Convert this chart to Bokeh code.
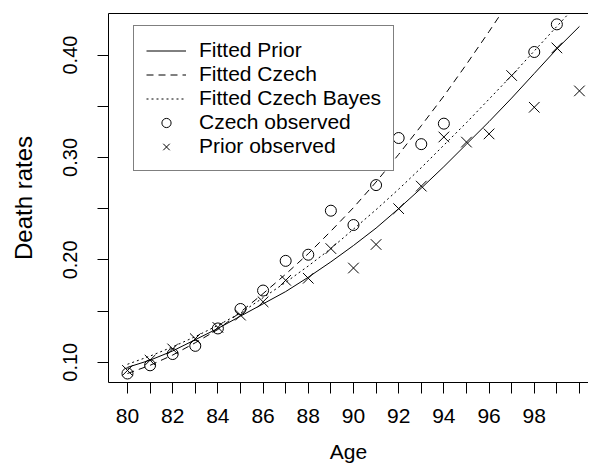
from bokeh.plotting import figure
from bokeh.models import (Range1d, FixedTicker, LinearAxis, Legend, LegendItem,
                          PrintfTickFormatter)
from bokeh.embed import file_html
from bokeh.resources import INLINE

# ---------------- data ----------------
ages_fit = list(range(80, 101))
fitted_prior = [0.095, 0.102, 0.111, 0.122, 0.133, 0.145, 0.157, 0.169, 0.183, 0.198,
                0.214, 0.231, 0.250, 0.270, 0.291, 0.313, 0.335, 0.358, 0.382, 0.406, 0.428]
fitted_bayes = [0.098, 0.106, 0.115, 0.125, 0.136, 0.148, 0.163, 0.178, 0.194, 0.211,
                0.230, 0.249, 0.269, 0.290, 0.312, 0.334, 0.357, 0.380, 0.404, 0.428, 0.452]
ages_czech_fit = list(range(80, 99))
fitted_czech = [0.089, 0.097, 0.107, 0.119, 0.132, 0.149, 0.167, 0.186, 0.206, 0.228,
                0.251, 0.276, 0.303, 0.331, 0.360, 0.391, 0.423, 0.456, 0.490]

ages_czech_obs = [80, 81, 82, 83, 84, 85, 86, 87, 88, 89, 90, 91, 92, 93, 94, 98, 99]
czech_obs = [0.089, 0.097, 0.108, 0.116, 0.133, 0.152, 0.170, 0.199, 0.205, 0.248,
             0.234, 0.273, 0.319, 0.313, 0.333, 0.403, 0.430]

ages_prior_obs = list(range(80, 101))
prior_obs = [0.092, 0.102, 0.113, 0.123, 0.134, 0.146, 0.159, 0.180, 0.182, 0.211,
             0.192, 0.215, 0.250, 0.272, 0.320, 0.315, 0.323, 0.380, 0.349, 0.407, 0.365]

x_major = [80, 82, 84, 86, 88, 90, 92, 94, 96, 98]
x_minor = [81, 83, 85, 87, 89, 91, 93, 95, 97, 99, 100]
y_major = [0.10, 0.20, 0.30, 0.40]
y_minor = [0.15, 0.25, 0.35]

legend_labels = ["Fitted Prior", "Fitted Czech", "Fitted Czech Bayes",
                 "Czech observed", "Prior observed"]

FONT = "Liberation Sans"

p = figure(width=588, height=470,
           x_range=Range1d(79.16, 100.40), y_range=Range1d(0.0802, 0.4406),
           output_backend="svg", toolbar_location=None,
           min_border_left=108, min_border_top=13, min_border_right=0,
           min_border_bottom=88)
p.outline_line_color = None
p.xgrid.visible = False
p.ygrid.visible = False
p.background_fill_color = "white"
p.border_fill_color = "white"

# axes
xa = p.xaxis[0]
xa.ticker = FixedTicker(ticks=x_major, minor_ticks=x_minor)
ya = p.yaxis[0]
ya.ticker = FixedTicker(ticks=y_major, minor_ticks=y_minor)
ya.formatter = PrintfTickFormatter(format="%.2f")
ya.major_label_orientation = "vertical"
for ax in (xa, ya):
    ax.axis_line_color = "black"
    ax.axis_line_width = 1
    ax.major_tick_in = 0
    ax.major_tick_out = 11
    ax.minor_tick_in = 0
    ax.minor_tick_out = 11
    ax.major_tick_line_color = "black"
    ax.minor_tick_line_color = "black"
    ax.major_label_text_font = FONT
    ax.major_label_text_color = "black"
    ax.axis_label_text_font = FONT
    ax.axis_label_text_font_style = "normal"
    ax.axis_label_text_color = "black"
xa.major_label_text_font_size = "21px"
ya.major_label_text_font_size = "20px"
xa.axis_label_text_font_size = "21px"
ya.axis_label_text_font_size = "24px"
xa.axis_label = "Age"
ya.axis_label = "Death rates"
xa.major_label_standoff = 15
ya.major_label_standoff = 20
xa.axis_label_standoff = 14
ya.axis_label_standoff = 24

top = LinearAxis(ticker=FixedTicker(ticks=[]), major_label_text_font_size="0px",
                 major_tick_line_color=None, minor_tick_line_color=None,
                 axis_line_color="black", major_label_standoff=0)
p.add_layout(top, "above")

# glyphs
r_prior = p.line(ages_fit, fitted_prior, line_color="black", line_width=1)
r_czech = p.line(ages_czech_fit, fitted_czech, line_color="black", line_width=1,
                 line_dash="7 5")
r_bayes = p.line(ages_fit, fitted_bayes, line_color="black", line_width=1,
                 line_dash="2 3")
r_cobs = p.scatter(ages_czech_obs, czech_obs, marker="circle", size=11,
                   fill_color=None, line_color="black", line_width=1)
r_pobs = p.scatter(ages_prior_obs, prior_obs, marker="x", size=15,
                   line_color="black", line_width=1)

legend = Legend(items=[
    LegendItem(label=legend_labels[0], renderers=[r_prior]),
    LegendItem(label=legend_labels[1], renderers=[r_czech]),
    LegendItem(label=legend_labels[2], renderers=[r_bayes]),
    LegendItem(label=legend_labels[3], renderers=[r_cobs]),
    LegendItem(label=legend_labels[4], renderers=[r_pobs]),
], location=(25, 211))
legend.border_line_color = "black"
legend.border_line_width = 1
legend.background_fill_color = "white"
legend.background_fill_alpha = 1
legend.label_text_font = FONT
legend.label_text_font_size = "21px"
legend.label_text_color = "black"
legend.padding = 12
legend.spacing = 0
legend.margin = 0
legend.glyph_width = 40
legend.glyph_height = 23
legend.label_height = 23
legend.label_standoff = 13
p.add_layout(legend, "center")

open("out.html", "w").write(file_html(p, INLINE))
